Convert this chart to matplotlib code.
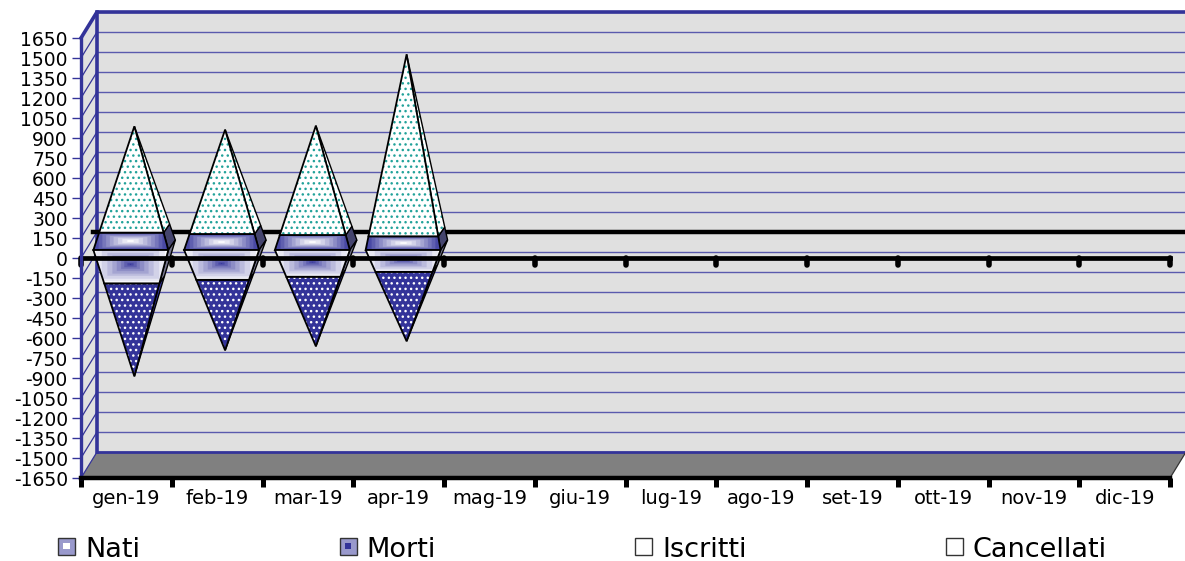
import numpy as np
import matplotlib
matplotlib.use("Agg")
import matplotlib.pyplot as plt
from matplotlib.colors import LinearSegmentedColormap
from matplotlib.legend_handler import HandlerPatch
from matplotlib.patches import Patch, Polygon, Rectangle

months = ["gen-19", "feb-19", "mar-19", "apr-19", "mag-19", "giu-19",
          "lug-19", "ago-19", "set-19", "ott-19", "nov-19", "dic-19"]
nati = [125, 115, 108, 100]
iscritti = [765, 750, 787, 1330]
morti = [260, 235, 211, 173]
cancellati = [725, 555, 549, 549]
y_ticks = list(range(-1650, 1651, 150))

BLUE = "#333399"
TEAL = "#22a29a"
WALL = "#e0e0e0"

# 3d look: offset of back wall and of the pyramid depth, in data units
DX, DY = 0.176, 195
PX, PY = 0.077, 75
HW = 0.413

fig = plt.figure(figsize=(11.85, 5.61), dpi=100)
ax = fig.add_axes([81 / 1185, 1 - 478 / 561, 1089 / 1185, 440 / 561])
ax.patch.set_visible(False)
ax.set_xlim(0, 12)
ax.set_ylim(-1650, 1650)


def add_poly(pts, **kw):
    kw.setdefault("clip_on", False)
    p = Polygon(pts, closed=True, **kw)
    ax.add_patch(p)
    return p


# walls and floor
add_poly([(DX, -1650 + DY), (12 + DX, -1650 + DY), (12 + DX, 1650 + DY), (DX, 1650 + DY)],
         fc=WALL, ec="none", zorder=1)
add_poly([(0, -1650), (DX, -1650 + DY), (DX, 1650 + DY), (0, 1650)], fc=WALL, ec="none", zorder=1)
add_poly([(0, -1650), (12, -1650), (12 + DX, -1650 + DY), (DX, -1650 + DY)],
         fc="#808080", ec="none", zorder=1)

for v in y_ticks:
    if v > -1650:
        ax.plot([DX, 12 + DX], [v + DY, v + DY], color="#5a5aad", lw=1.0, clip_on=False, zorder=2)
    ax.plot([0, DX], [v, v + DY], color=BLUE, lw=0.9, clip_on=False, zorder=2)

ax.plot([DX, 12 + DX], [-1650 + DY] * 2, color=BLUE, lw=2.0, clip_on=False, zorder=3)
ax.plot([DX, DX], [-1650 + DY, 1650 + DY], color=BLUE, lw=2.6, clip_on=False, zorder=3)
ax.plot([0, DX, 12 + DX], [1650, 1650 + DY, 1650 + DY], color=BLUE, lw=2.6, clip_on=False, zorder=3)
ax.plot([12 + DX, 12 + DX], [-1650 + DY, 1650 + DY], color=BLUE, lw=2.0, clip_on=False, zorder=3)
ax.plot([12, 12 + DX], [-1650, -1650 + DY], color="#333333", lw=0.9, clip_on=False, zorder=3)

# zero line on the back wall, behind the pyramids
ax.plot([0.13, 12 + DX], [DY, DY], color="black", lw=3.2, clip_on=False, zorder=4)


def point(c, u, w, level, total, sign):
    f = 1 - level / total
    return (c + f * (u * HW + w * PX / 2), DY / 2 + sign * level + f * w * PY / 2)


def gradient(poly, centre_col, edge_col, cy, power, zorder):
    xy = poly.get_xy()
    x0, x1 = xy[:, 0].min(), xy[:, 0].max()
    y0, y1 = xy[:, 1].min(), xy[:, 1].max()
    xx, yy = np.meshgrid(np.linspace(-1, 1, 120), np.linspace(0, 1, 80))
    t = np.maximum(np.abs(xx), np.abs(yy - cy) / max(cy, 1 - cy)) ** power
    t = np.round(t * 9) / 9
    cmap = LinearSegmentedColormap.from_list("g", [centre_col, edge_col])
    im = ax.imshow(t, extent=(x0, x1, y0, y1), origin="lower", aspect="auto",
                   cmap=cmap, vmin=0, vmax=1, zorder=zorder, clip_on=True)
    im.set_clip_path(poly)


def segment(c, lo, hi, total, sign, kind, zorder):
    # side face first, then the front one on top
    side = [point(c, 1, -1, lo, total, sign), point(c, 1, 1, lo, total, sign),
            point(c, 1, 1, hi, total, sign), point(c, 1, -1, hi, total, sign)]
    front = [point(c, -1, -1, lo, total, sign), point(c, 1, -1, lo, total, sign),
             point(c, 1, -1, hi, total, sign), point(c, -1, -1, hi, total, sign)]
    if kind == "nati":
        add_poly(side, fc="#45456e", ec="black", lw=1.0, zorder=zorder)
        p = add_poly(front, fc="none", ec="none", zorder=zorder + 1)
        gradient(p, "white", BLUE, 0.5, 1.2, zorder + 1)
    elif kind == "morti":
        add_poly(side, fc="#77778f", ec="black", lw=1.0, zorder=zorder)
        p = add_poly(front, fc="none", ec="none", zorder=zorder + 1)
        gradient(p, BLUE, "white", 0.55, 0.7, zorder + 1)
    elif kind == "iscritti":
        add_poly(side, fc="white", ec=TEAL, hatch="...", lw=0, zorder=zorder)
        add_poly(side, fc="none", ec="black", lw=1.0, zorder=zorder)
        add_poly(front, fc="white", ec=TEAL, hatch="...", lw=0, zorder=zorder + 1)
    else:
        add_poly(side, fc=BLUE, ec="black", lw=1.0, zorder=zorder)
        add_poly(front, fc=BLUE, ec="white", hatch="...", lw=0, zorder=zorder + 1)
    add_poly(front, fc="none", ec="black", lw=1.3, zorder=zorder + 2)


for k in range(len(nati)):
    c = k + 0.5 + DX / 2
    up = nati[k] + iscritti[k]
    down = morti[k] + cancellati[k]
    segment(c, 0, nati[k], up, 1, "nati", 6)
    segment(c, nati[k], up, up, 1, "iscritti", 9)
    segment(c, morti[k], down, down, -1, "cancellati", 6)
    segment(c, 0, morti[k], down, -1, "morti", 9)

# front zero line with its own tick marks
ax.plot([0, 12], [0, 0], color="black", lw=3.4, clip_on=False, zorder=14)
ax.vlines(range(13), -55, 0, color="black", lw=4.0, capstyle="round", clip_on=False, zorder=14)

ax.spines["top"].set_visible(False)
ax.spines["right"].set_visible(False)
ax.spines["left"].set_color(BLUE)
ax.spines["left"].set_linewidth(2.4)
ax.spines["bottom"].set_color("black")
ax.spines["bottom"].set_linewidth(3.2)
for s in ax.spines.values():
    s.set_zorder(15)

ax.set_yticks(y_ticks)
ax.set_yticklabels([str(v) for v in y_ticks])
ax.tick_params(axis="y", direction="out", length=6.5, width=1.0, color=BLUE, pad=3, labelsize=13.5)
ax.set_xticks(range(13))
ax.set_xticklabels([])
ax.tick_params(axis="x", which="major", length=6.5, width=3.6, color="black")
ax.set_xticks(np.arange(12) + 0.5, minor=True)
ax.set_xticklabels(months, minor=True)
ax.tick_params(axis="x", which="minor", length=0, pad=8, labelsize=14)


class SwatchHandler(HandlerPatch):
    def create_artists(self, legend, orig, xd, yd, width, height, fontsize, trans):
        h = min(width, height * 1.0)
        y0 = -yd + (height - h) / 2 + 1
        outer = Rectangle((-xd, y0), width, h, fc=orig.get_facecolor(), ec="#333333",
                          lw=1.0, transform=trans)
        inner = Rectangle((-xd + width * 0.3, y0 + h * 0.3), width * 0.4, h * 0.4,
                          fc=orig.get_edgecolor(), ec="none", transform=trans)
        return [outer, inner]


handles = [Patch(fc="#9999cc", ec="white", label="Nati"),
           Patch(fc="#9999cc", ec=BLUE, label="Morti"),
           Patch(fc="white", ec="white", label="Iscritti"),
           Patch(fc="white", ec="white", label="Cancellati")]
fig.legend(handles=handles, handler_map={Patch: SwatchHandler()}, ncol=4, frameon=False,
           fontsize=19.5, loc="center left", bbox_to_anchor=(34 / 1185, 1 - 550 / 561),
           handlelength=0.63, handleheight=0.63, handletextpad=0.37, columnspacing=7.35)

fig.savefig("out.png", dpi=100)
